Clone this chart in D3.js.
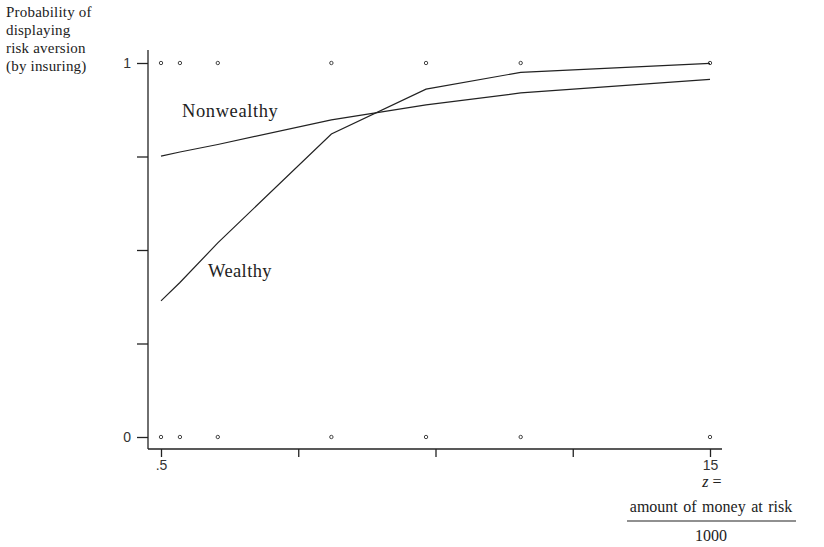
<!DOCTYPE html>
<html><head><meta charset="utf-8">
<script src="https://cdn.jsdelivr.net/npm/d3@7"></script>
<style>body{margin:0;background:#fff}</style>
</head><body>
<svg id="c" width="824" height="547"></svg>
<script>
const xValues = [0.5, 1, 2, 5, 7.5, 10, 15];
const wealthy = [0.364, 0.413, 0.519, 0.810, 0.930, 0.975, 0.999];
const nonwealthy = [0.751, 0.762, 0.782, 0.848, 0.888, 0.920, 0.956];
const observedY = [0, 1];
const xTicks = [0.5, 4.125, 7.75, 11.375, 15];
const xTickLabels = [".5", "", "", "", "15"];
const yTicks = [0, 0.25, 0.5, 0.75, 1];
const yTickLabels = ["0", "", "", "", "1"];
const yTitle = ["Probability of", "displaying", "risk aversion", "(by insuring)"];

const svg = d3.select("#c");
const x = d3.scaleLinear().domain([0.5, 15]).range([161, 710]);
const y = d3.scaleLinear().domain([0, 1]).range([437, 63]);
const col = "#222";
const sans = "Liberation Sans, Arial, sans-serif";
const serif = "Liberation Serif, Times New Roman, serif";

// axes
const yAxis = d3.axisLeft(y).tickValues(yTicks).tickSize(11).tickPadding(6)
  .tickFormat((d,i)=>yTickLabels[i]);
const gy = svg.append("g").attr("transform","translate(148,0)").call(yAxis);
gy.select(".domain").remove();
gy.append("line").attr("x1",0).attr("x2",0).attr("y1",50).attr("y2",449).attr("stroke",col).attr("stroke-width",1.3);
gy.selectAll(".tick line").attr("stroke",col).attr("stroke-width",1.3);
gy.selectAll(".tick text").attr("font-family",sans).attr("font-size",14).attr("fill","#333");

const xAxis = d3.axisBottom(x).tickValues(xTicks).tickSize(8).tickPadding(3)
  .tickFormat((d,i)=>xTickLabels[i]);
const gx = svg.append("g").attr("transform","translate(0,449)").call(xAxis);
gx.select(".domain").remove();
gx.append("line").attr("x1",148).attr("x2",722).attr("y1",0).attr("y2",0).attr("stroke",col).attr("stroke-width",1.3);
gx.selectAll(".tick line").attr("stroke",col).attr("stroke-width",1.3);
gx.selectAll(".tick text").attr("font-family",sans).attr("font-size",14).attr("fill","#333");

// observed points
observedY.forEach(v=>{
  svg.append("g").selectAll("circle").data(xValues).join("circle")
    .attr("cx",d=>x(d)).attr("cy",y(v)).attr("r",1.7)
    .attr("fill","none").attr("stroke","#444").attr("stroke-width",1);
});

// curves
const line = d3.line().x(d=>x(d[0])).y(d=>y(d[1]));
[wealthy, nonwealthy].forEach(s=>{
  svg.append("path").datum(xValues.map((v,i)=>[v,s[i]])).attr("d",line)
    .attr("fill","none").attr("stroke",col).attr("stroke-width",1.2);
});

svg.append("text").attr("x",182).attr("y",117).attr("font-family",serif).attr("font-size",18.5).attr("letter-spacing",0.6).attr("fill","#222").text("Nonwealthy");
svg.append("text").attr("x",208).attr("y",277).attr("font-family",serif).attr("font-size",18.5).attr("letter-spacing",0.4).attr("fill","#222").text("Wealthy");

// y title
svg.append("g").selectAll("text").data(yTitle).join("text")
  .attr("x",6).attr("y",(d,i)=>17+i*18)
  .attr("font-family",serif).attr("font-size",15).attr("letter-spacing",0.2).attr("fill","#222").text(d=>d);

// x title
const xt = svg.append("g").attr("font-family",serif).attr("fill","#222");
const zt = xt.append("text").attr("x",712).attr("y",487).attr("text-anchor","middle").attr("font-size",16);
zt.append("tspan").attr("font-style","italic").text("z");
zt.append("tspan").text(" =");
xt.append("text").attr("x",711).attr("y",512).attr("text-anchor","middle").attr("font-size",16).attr("word-spacing","1.5px").text("amount of money at risk");
xt.append("line").attr("x1",627).attr("x2",796).attr("y1",521).attr("y2",521).attr("stroke","#222").attr("stroke-width",1.2);
xt.append("text").attr("x",711).attr("y",541).attr("text-anchor","middle").attr("font-size",16).text("1000");
</script>
</body></html>
